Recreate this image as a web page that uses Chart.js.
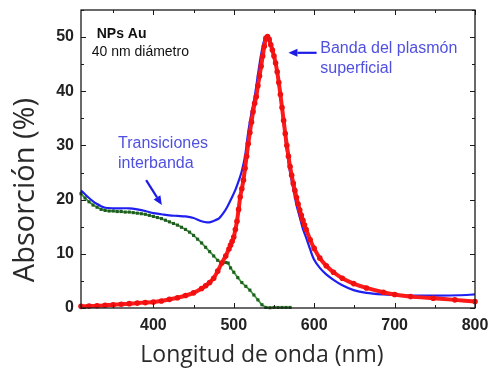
<!DOCTYPE html>
<html>
<head>
<meta charset="utf-8">
<script src="https://cdn.jsdelivr.net/npm/chart.js@4.4.1/dist/chart.umd.min.js"></script>
<style>
html,body{margin:0;padding:0;background:#fff;}
canvas{display:block;}
</style>
</head>
<body>
<canvas id="c" width="490" height="373"></canvas>
<script>
// ---- Data ----
const xTicks = [400, 500, 600, 700, 800];
const yTicks = [0, 10, 20, 30, 40, 50];

// Measured absorption (blue)
const blueX = [310,315,320,325,330,335,340,350,360,370,380,390,400,410,420,430,440,450,460,467,472,477,482,487,492,497,502,506,510,514,518,522,526,530,534,538,541,545,550,554,558,562,566,570,574,578,582,586,590,595,600,607,615,624,635,649,665,686,700,720,750,780,800];
const blueY = [21.7,21.0,20.3,19.7,19.2,18.8,18.5,18.4,18.4,18.4,18.2,17.9,17.5,17.3,17.1,17.0,16.9,16.6,16.0,15.8,15.9,16.2,16.6,17.5,18.7,20.2,21.8,23.4,25.3,28.0,32.5,36.0,39.0,43.0,46.8,49.5,50.2,49.5,46.5,43.5,39.0,34.0,29.0,25.0,22.0,19.0,16.8,14.6,13.0,10.8,8.9,7.4,6.2,5.2,4.2,3.3,2.8,2.5,2.4,2.3,2.3,2.35,2.5];

// Plasmon band (red, dotted)
const redX = [310,320,330,340,350,360,370,380,390,400,410,420,430,440,450,460,465,470,475,480,485,490,494,496,498,500,502,504,506,508,510,512,514,516,518,520,522,524,526,528,530,532,534,536,538,540,542,544,546,548,550,552,554,556,558,560,562,564,566,568,570,572,574,576,578,580,582,584,586,588,590,595,600,607,615,624,635,649,665,686,700,720,748,775,800];
const redY = [0.3,0.35,0.4,0.5,0.6,0.7,0.8,0.9,1.0,1.1,1.3,1.6,1.9,2.3,2.8,3.6,4.1,4.7,5.5,6.8,8.3,9.6,10.9,11.6,12.3,13.1,14.5,16.0,18.2,20.5,22.0,23.6,25.8,28.0,30.3,32.4,34.3,36.2,37.8,39.0,41.0,42.8,44.6,46.5,48.3,49.8,50.1,49.6,48.6,47.6,46.5,45.2,43.6,41.6,39.4,37.0,34.6,32.2,30.0,28.0,26.1,24.5,23.0,21.7,20.4,19.2,18.1,17.1,16.2,15.3,14.5,12.6,11.0,9.2,7.8,6.6,5.5,4.5,3.7,2.9,2.5,2.1,1.8,1.5,1.2];

// Interband transitions (green)
const greenX = [310,315,320,325,330,335,340,345,350,355,360,365,370,375,380,385,390,395,400,405,410,415,420,425,430,435,440,445,450,455,460,465,470,475,480,485,490,493,496,500,505,510,515,520,525,530,535,540,545,550,555,560,565,570];
const greenY = [21.1,20.3,19.6,19.0,18.6,18.2,18.0,17.9,17.9,17.8,17.8,17.7,17.7,17.6,17.5,17.4,17.3,17.1,16.9,16.7,16.5,16.2,15.9,15.6,15.3,14.9,14.5,14.0,13.4,12.7,12.0,11.2,10.4,9.6,8.8,8.3,8.4,8.3,7.4,6.6,5.6,4.7,4.0,3.3,2.4,1.5,0.6,0.1,0.05,0.1,0.1,0.1,0.1,0.1];

const pts = (xs, ys) => xs.map((x, i) => ({x: x, y: ys[i]}));

// Frame + inward ticks on all four sides, titles and annotations
const framePlugin = {
  id: 'frame',
  afterDatasetsDraw(chart) {
    const {ctx, chartArea: a, scales: {x, y}} = chart;
    ctx.save();
    ctx.strokeStyle = '#1a1a1a';
    ctx.lineWidth = 1.3;
    ctx.strokeRect(a.left, a.top, a.right - a.left, a.bottom - a.top);
    ctx.lineWidth = 1;
    ctx.beginPath();
    for (let v = 350; v <= 800; v += 50) {
      const px = Math.round(x.getPixelForValue(v)) + 0.5;
      const len = (v % 100 === 0) ? 5 : 3;
      ctx.moveTo(px, a.bottom); ctx.lineTo(px, a.bottom - len);
      ctx.moveTo(px, a.top); ctx.lineTo(px, a.top + len);
    }
    for (let v = 0; v <= 55; v += 5) {
      const py = Math.round(y.getPixelForValue(v)) + 0.5;
      const len = (v % 10 === 0) ? 5 : 3;
      ctx.moveTo(a.left, py); ctx.lineTo(a.left + len, py);
      ctx.moveTo(a.right, py); ctx.lineTo(a.right - len, py);
    }
    ctx.stroke();

    // axis titles
    ctx.fillStyle = '#2a2a2a';
    ctx.textAlign = 'center';
    ctx.textBaseline = 'middle';
    ctx.font = '23px "Open Sans", sans-serif';
    ctx.fillText('Longitud de onda (nm)', 262, 355);
    ctx.save();
    ctx.translate(26, 190);
    ctx.rotate(-Math.PI / 2);
    ctx.font = '29px "Open Sans", sans-serif';
    ctx.fillText('Absorción (%)', 0, 0);
    ctx.restore();

    // annotations (placed in data coordinates)
    const X = v => x.getPixelForValue(v), Y = v => y.getPixelForValue(v);
    ctx.textBaseline = 'middle';
    ctx.textAlign = 'left';
    ctx.fillStyle = '#111';
    ctx.font = 'bold 14px "Liberation Sans", Arial, sans-serif';
    ctx.fillText('NPs Au', X(329.5), Y(50.6));
    ctx.font = '14px "Liberation Sans", Arial, sans-serif';
    ctx.fillText('40 nm diámetro', X(323.3), Y(47.3));

    ctx.fillStyle = '#5050e0';
    ctx.font = '16px "Liberation Sans", Arial, sans-serif';
    ctx.fillText('Transiciones', X(356), Y(30.4));
    ctx.fillText('interbanda', X(356), Y(26.7));
    ctx.fillText('Banda del plasmón', X(607.6), Y(47.8));
    ctx.fillText('superficial', X(607.6), Y(44.1));

    const arrow = (x1, y1, x2, y2) => {
      const ang = Math.atan2(y2 - y1, x2 - x1);
      const hl = 9, hw = 4;
      const bx = x2 - hl * Math.cos(ang), by = y2 - hl * Math.sin(ang);
      ctx.strokeStyle = '#1c1ce6';
      ctx.fillStyle = '#1c1ce6';
      ctx.lineWidth = 2.2;
      ctx.beginPath(); ctx.moveTo(x1, y1); ctx.lineTo(bx, by); ctx.stroke();
      ctx.beginPath();
      ctx.moveTo(x2, y2);
      ctx.lineTo(bx + hw * Math.sin(ang), by - hw * Math.cos(ang));
      ctx.lineTo(bx - hw * Math.sin(ang), by + hw * Math.cos(ang));
      ctx.closePath(); ctx.fill();
    };
    arrow(X(603), Y(47.1), X(568), Y(47.1));
    arrow(X(391), Y(23.6), X(410.5), Y(19.0));
    ctx.restore();
  }
};

new Chart(document.getElementById('c'), {
  type: 'line',
  data: {
    datasets: [
      {
        label: 'Medida',
        data: pts(blueX, blueY),
        borderColor: '#1f1ff0',
        borderWidth: 2.2,
        pointRadius: 0,
        tension: 0.3,
        order: 2
      },
      {
        label: 'Transiciones interbanda',
        data: pts(greenX, greenY),
        borderColor: '#3f9f3f',
        borderWidth: 1.8,
        pointRadius: 2.2,
        pointStyle: 'rect',
        pointBackgroundColor: '#1e5e1e',
        pointBorderColor: '#1e5e1e',
        pointBorderWidth: 0,
        tension: 0,
        order: 3
      },
      {
        label: 'Plasmón',
        data: pts(redX, redY),
        borderColor: '#ff1a1a',
        borderWidth: 4,
        pointRadius: 2.8,
        pointBackgroundColor: '#f01010',
        pointBorderColor: '#f01010',
        pointBorderWidth: 0,
        tension: 0.2,
        order: 1
      }
    ]
  },
  options: {
    responsive: false,
    animation: false,
    clip: false,
    layout: {padding: {left: 0, right: 15, top: 10, bottom: 0}},
    plugins: {legend: {display: false}, tooltip: {enabled: false}},
    scales: {
      x: {
        type: 'linear',
        min: 310, max: 800,
        afterFit: s => { s.height = 65; s.paddingLeft = 0; s.paddingRight = 0; },
        afterBuildTicks: s => { s.ticks = xTicks.map(v => ({value: v})); },
        grid: {display: false, drawTicks: false},
        border: {display: false},
        ticks: {
          padding: 8,
          color: '#222',
          font: {family: '"Liberation Sans", Arial, sans-serif', size: 16, weight: 'bold'},
          maxRotation: 0
        },
        title: {display: false}
      },
      y: {
        type: 'linear',
        min: 0, max: 55,
        afterFit: s => { s.width = 81; s.paddingTop = 0; s.paddingBottom = 0; },
        afterBuildTicks: s => { s.ticks = yTicks.map(v => ({value: v})); },
        grid: {display: false, drawTicks: false},
        border: {display: false},
        ticks: {
          padding: 7,
          color: '#222',
          font: {family: '"Liberation Sans", Arial, sans-serif', size: 16, weight: 'bold'}
        },
        title: {display: false}
      }
    }
  },
  plugins: [framePlugin]
});
</script>
</body>
</html>
